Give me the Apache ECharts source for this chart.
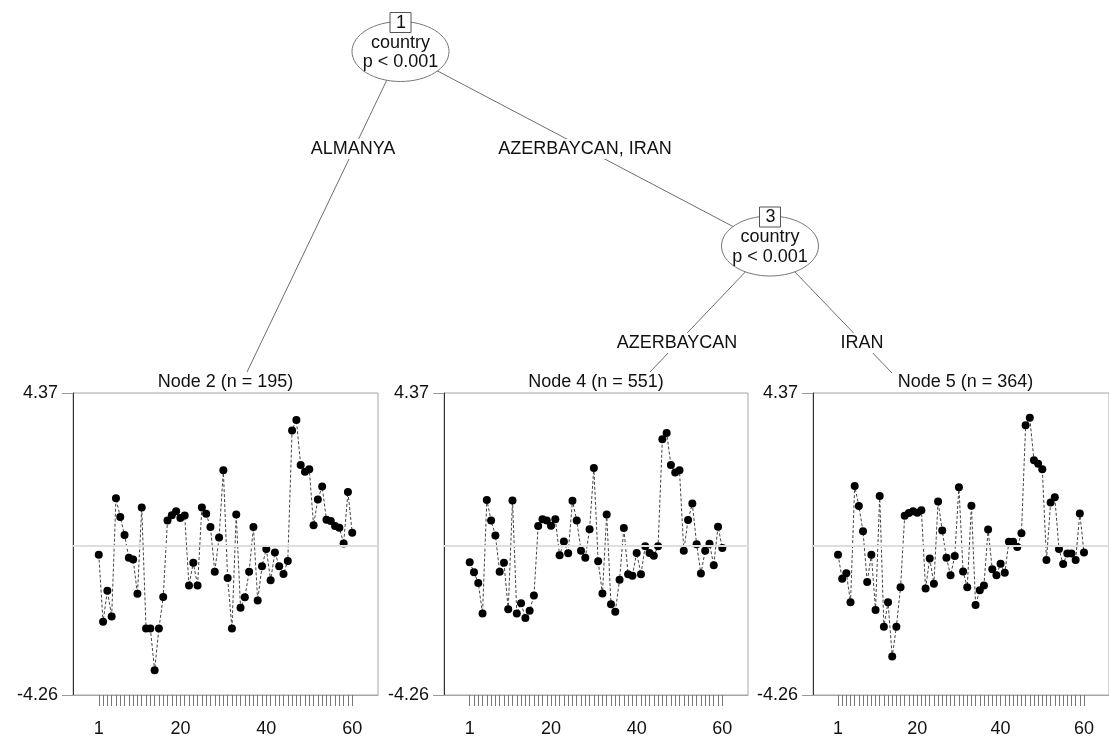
<!DOCTYPE html>
<html>
<head>
<meta charset="utf-8">
<script src="https://cdn.jsdelivr.net/npm/echarts@6/dist/echarts.min.js"></script>
<style>
html,body{margin:0;padding:0;background:#fff;}
#chart{width:1109px;height:738px;}
</style>
</head>
<body>
<div id="chart"></div>
<script>
// ---- data ----
const node2Title = "Node 2 (n = 195)";
const node4Title = "Node 4 (n = 551)";
const node5Title = "Node 5 (n = 364)";
const node2Values = [-0.25,-2.17,-1.28,-2.02,1.36,0.83,0.31,-0.34,-0.39,-1.37,1.10,-2.36,-2.36,-3.55,-2.36,-1.46,0.73,0.88,0.99,0.80,0.87,-1.13,-0.48,-1.13,1.10,0.92,0.54,-0.74,0.24,2.16,-0.92,-2.36,0.90,-1.77,-1.47,-0.74,0.54,-1.56,-0.58,-0.09,-0.98,-0.19,-0.58,-0.80,-0.43,3.30,3.60,2.31,2.12,2.19,0.59,1.33,1.70,0.75,0.71,0.57,0.52,0.07,1.54,0.38];
const node4Values = [-0.47,-0.75,-1.06,-1.93,1.31,0.73,0.30,-0.74,-0.48,-1.81,1.30,-1.93,-1.64,-2.06,-1.85,-1.42,0.57,0.76,0.73,0.58,0.76,-0.27,0.13,-0.21,1.29,0.73,-0.14,-0.34,0.48,2.23,-0.44,-1.36,0.90,-1.67,-1.88,-0.97,0.51,-0.81,-0.85,-0.20,-0.81,-0.01,-0.20,-0.28,-0.01,3.05,3.23,2.31,2.10,2.16,-0.14,0.74,1.21,0.05,-0.79,-0.14,0.06,-0.55,0.55,-0.06];
const node5Values = [-0.25,-0.94,-0.78,-1.61,1.71,1.14,0.42,-1.03,-0.25,-1.83,1.43,-2.31,-1.61,-3.16,-2.31,-1.18,0.86,0.94,0.99,0.95,1.02,-1.22,-0.36,-1.08,1.27,0.44,-0.34,-0.84,-0.29,1.68,-0.73,-1.18,1.15,-1.69,-1.27,-1.13,0.47,-0.67,-0.84,-0.51,-0.77,0.12,0.12,-0.03,0.36,3.45,3.66,2.45,2.35,2.19,-0.40,1.24,1.39,-0.09,-0.52,-0.22,-0.22,-0.40,0.93,-0.19];
const yTickLabels = [-4.26, 4.37];
const xTickLabels = [1, 20, 40, 60];
const xTickPositions = Array.from({length: 60}, (_, i) => i + 1);
const referenceLevel = 0;
const edgeLabels = ["ALMANYA", "AZERBAYCAN, IRAN", "AZERBAYCAN", "IRAN"];
const innerNodeLabel = ["country", "p < 0.001"];

// ---- layout ----
const FONT = "'Liberation Sans', Arial, Helvetica, sans-serif";
const panels = [
  {left: 73, width: 305, title: node2Title, values: node2Values},
  {left: 444, width: 304, title: node4Title, values: node4Values},
  {left: 813, width: 305, title: node5Title, values: node5Values}
];
const gridTop = 393, gridHeight = 308;

const grids = [], xAxes = [], yAxes = [], series = [];
panels.forEach((p, k) => {
  grids.push({left: p.left, top: gridTop, width: p.width, height: gridHeight,
    show: true, borderColor: '#a6a6a6', borderWidth: 1, backgroundColor: 'transparent', containLabel: false});
  xAxes.push({type: 'value', gridIndex: k, min: -5, max: 66,
    axisLine: {show: true, onZero: false, lineStyle: {color: '#a6a6a6', width: 1}},
    axisTick: {show: true, length: 11, customValues: xTickPositions, lineStyle: {color: '#777', width: 1}},
    axisLabel: {show: true, customValues: xTickLabels, fontSize: 18, fontFamily: FONT, color: '#111', margin: 25},
    splitLine: {show: false}});
  yAxes.push({type: 'value', gridIndex: k, min: yTickLabels[0], max: yTickLabels[1],
    axisLine: {show: true, onZero: false, lineStyle: {color: '#333', width: 1}},
    axisTick: {show: true, length: 11, customValues: yTickLabels, lineStyle: {color: '#999', width: 1}},
    axisLabel: {show: true, customValues: yTickLabels, fontSize: 18, fontFamily: FONT, color: '#111', margin: 15,
      formatter: v => Number(v).toFixed(2)},
    splitLine: {show: false}});
  // reference level line, behind the data
  series.push({type: 'line', xAxisIndex: k, yAxisIndex: k, data: [], z: 1, animation: false,
    markLine: {silent: true, symbol: 'none', animation: false, label: {show: false},
      lineStyle: {color: '#dedede', width: 2, type: 'solid'},
      data: [{yAxis: referenceLevel}]}});
  series.push({type: 'line', xAxisIndex: k, yAxisIndex: k,
    data: p.values.map((v, i) => [i + 1, v]),
    symbol: 'circle', symbolSize: 8, showSymbol: true,
    itemStyle: {color: '#000'},
    lineStyle: {color: '#444', width: 1, type: [3, 2]},
    clip: false, animation: false, z: 3});
});

const n1 = {x: 400.5, y: 51.5}, n3 = {x: 770, y: 246};
const ends = {n2: {x: 247, y: 372}, n4: {x: 650, y: 372}, n5: {x: 892, y: 373}};
const edgeStyle = {stroke: '#6e6e6e', lineWidth: 1};
function line(a, b) { return {type: 'line', shape: {x1: a.x, y1: a.y, x2: b.x, y2: b.y}, style: edgeStyle, z: 1, silent: true}; }
function txt(s, x, y, bg) {
  return {type: 'text', x: x, y: y, z: 5, silent: true,
    style: {text: s, font: '18px ' + FONT, fill: '#111', align: 'center', verticalAlign: 'middle',
      backgroundColor: bg ? '#fff' : null, padding: bg ? [1, 2] : 0}};
}
function ellipse(c) {
  return {type: 'ellipse', shape: {cx: c.x, cy: c.y, rx: 48.5, ry: 30}, z: 3, silent: true,
    style: {fill: '#fff', stroke: '#777', lineWidth: 1}};
}
function box(c, label) {
  return [{type: 'rect', shape: {x: c.x - 10.5, y: c.y - 39, width: 21, height: 20}, z: 4, silent: true,
      style: {fill: '#fff', stroke: '#555', lineWidth: 1}},
    txt(label, c.x + 0.5, c.y - 28.5, false)];
}
const graphics = [
  line(n1, ends.n2), line(n1, n3), line(n3, ends.n4), line(n3, ends.n5),
  ellipse(n1), ellipse(n3),
  ...box(n1, '1'), ...box(n3, '3'),
  txt(innerNodeLabel[0], n1.x, n1.y - 8.5, false), txt(innerNodeLabel[1], n1.x, n1.y + 11, false),
  txt(innerNodeLabel[0], n3.x, n3.y - 8.5, false), txt(innerNodeLabel[1], n3.x, n3.y + 11.5, false),
  txt(edgeLabels[0], 353, 149, true), txt(edgeLabels[1], 585, 149, true),
  txt(edgeLabels[2], 677, 343, true), txt(edgeLabels[3], 862, 343, true),
  txt(panels[0].title, 225.5, 382, false), txt(panels[1].title, 596, 382, false), txt(panels[2].title, 965.5, 382, false)
];

const chart = echarts.init(document.getElementById('chart'), null, {renderer: 'canvas'});
chart.setOption({
  animation: false,
  backgroundColor: '#fff',
  grid: grids, xAxis: xAxes, yAxis: yAxes, series: series,
  graphic: graphics
});
</script>
</body>
</html>
